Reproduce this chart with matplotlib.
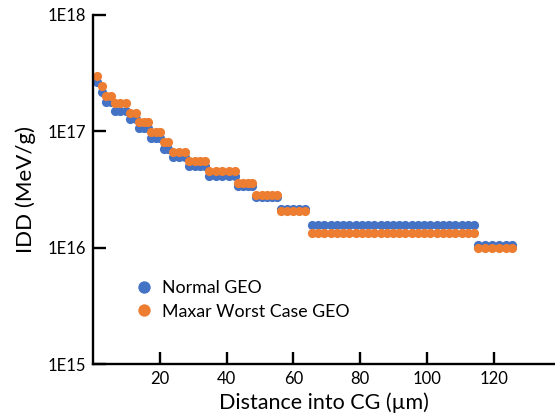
import matplotlib
matplotlib.use("Agg")
import matplotlib.pyplot as plt
from matplotlib.ticker import FixedLocator, NullLocator

plt.rcParams['font.family'] = ['Lato', 'DejaVu Sans']

# Sample positions (µm) grouped by dose plateau
step_x = [
    [1.2],
    [2.7],
    [3.8, 5.3],
    [6.5, 8.2, 10.0],
    [11.2, 12.8],
    [13.8, 15.2, 16.5],
    [17.5, 18.8, 20.0],
    [21.3, 22.5],
    [23.9, 25.7, 27.5],
    [28.8, 30.4, 32.0, 33.6],
    [34.8, 36.7, 38.7, 40.6, 42.6],
    [43.5, 44.9, 46.3, 47.7],
    [48.9, 50.5, 52.0, 53.6, 55.2],
    [56.4, 58.2, 60.0, 61.8, 63.6],
    [65.5, 67.4, 69.2, 71.1, 73.0, 74.8, 76.7, 78.6, 80.5, 82.3, 84.2,
     86.1, 87.9, 89.8, 91.7, 93.5, 95.4, 97.3, 99.2, 101.0, 102.9,
     104.8, 106.6, 108.5, 110.4, 112.2, 114.1],
    [115.3, 117.3, 119.4, 121.4, 123.5, 125.5],
]

# IDD (MeV/g) level of each plateau
normal_geo_levels = [2.67e17, 2.19e17, 1.80e17, 1.50e17, 1.27e17, 1.06e17,
                     8.7e16, 7.1e16, 5.97e16, 5.0e16, 4.13e16, 3.39e16,
                     2.7e16, 2.13e16, 1.56e16, 1.05e16]
maxar_worst_levels = [3.0e17, 2.47e17, 2.02e17, 1.74e17, 1.43e17, 1.21e17,
                      9.9e16, 8.1e16, 6.6e16, 5.6e16, 4.58e16, 3.6e16,
                      2.83e16, 2.07e16, 1.33e16, 1.0e16]

series_labels = ["Normal GEO", "Maxar Worst Case GEO"]
x_ticks = [20, 40, 60, 80, 100, 120]
y_ticks = [1e15, 1e16, 1e17, 1e18]
y_tick_labels = ["1E15", "1E16", "1E17", "1E18"]

blue = "#4472C4"
orange = "#ED7D31"

x_um = [x for xs in step_x for x in xs]
normal_geo = [lv for xs, lv in zip(step_x, normal_geo_levels) for _ in xs]
maxar_worst = [lv for xs, lv in zip(step_x, maxar_worst_levels) for _ in xs]

fig = plt.figure(figsize=(5.55, 4.2), dpi=100)
ax = fig.add_axes([0.1676, 0.1333, 0.8324, 0.831])

ax.plot(x_um, normal_geo, linestyle="none", marker="o", markersize=6.6,
        markeredgewidth=0, color=blue, label=series_labels[0])
ax.plot(x_um, maxar_worst, linestyle="none", marker="o", markersize=6.6,
        markeredgewidth=0, color=orange, label=series_labels[1])

ax.set_yscale("log")
ax.set_ylim(1e15, 1e18)
ax.set_xlim(0, 138.3)
ax.yaxis.set_major_locator(FixedLocator(y_ticks))
ax.set_yticklabels(y_tick_labels)
ax.yaxis.set_minor_locator(NullLocator())
ax.set_xticks(x_ticks)

for s in ["top", "right"]:
    ax.spines[s].set_visible(False)
for s in ["left", "bottom"]:
    ax.spines[s].set_linewidth(1.7)
    ax.spines[s].set_color("black")

ax.tick_params(axis="both", which="major", direction="in", length=9,
               width=1.7, labelsize=12, colors="black", pad=5)

ax.set_xlabel("Distance into CG (µm)", fontsize=15.5, labelpad=4)
ax.set_ylabel("IDD (MeV/g)", fontsize=16, labelpad=8)

leg = ax.legend(frameon=False, loc="upper left", bbox_to_anchor=(0.091, 0.24),
                fontsize=12.8, handlelength=1.0, handletextpad=0.5,
                labelspacing=0.42, borderpad=0, borderaxespad=0, markerscale=1.35)

fig.savefig("out.png", dpi=100)
